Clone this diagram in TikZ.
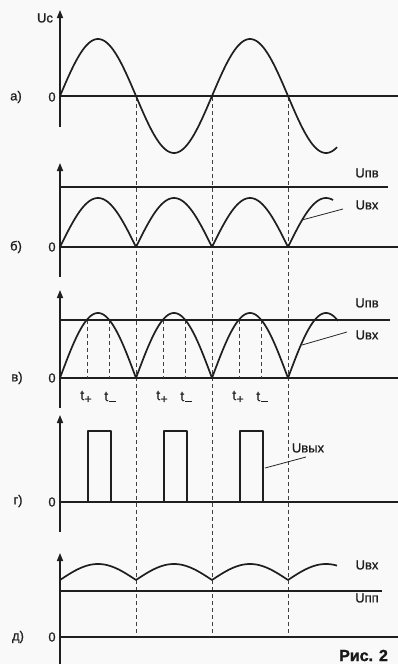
\documentclass[tikz,border=0pt]{standalone}
\usepackage{fontspec}
\setmainfont[FakeBold=1]{Liberation Sans}
\newfontfamily\figfont[FakeBold=1.5]{Liberation Sans}
\usetikzlibrary{arrows.meta}
\newcommand{\tplus}{t\kern0.5pt\raisebox{-3pt}{\fontsize{12}{12}\selectfont +}}
\newcommand{\tminus}{t\kern1pt\raisebox{-1pt}{\rule{6.5pt}{1.2pt}}}
\begin{document}
\begin{tikzpicture}[x=1pt,y=-1pt,
  curve/.style={draw=black!88, line width=1.7pt, line join=round},
  axis/.style={draw=black!88, line width=1.5pt},
  yaxis/.style={draw=black!88, line width=1.5pt, -{Triangle[length=8pt,width=6pt]}},
  guide/.style={draw=black!75, line width=0.9pt, dash pattern=on 4pt off 3pt},
  lbl/.style={font=\fontsize{13}{15}\selectfont, inner sep=0pt, text=black!88},
  tlbl/.style={font=\fontsize{14}{16}\selectfont, inner sep=0pt, text=black!88},
  lead/.style={draw=black!85, line width=0.8pt}
]
\useasboundingbox[fill=gray!5] (0,0) rectangle (398,664);

% dashed guides through all panels
\foreach \gx in {136,212,288} \draw[guide] (\gx,97) -- (\gx,636);

% ---- panel a
\draw[yaxis] (60,127) -- (60,10);
\draw[axis] (60,96) -- (398,96);
\draw[curve] plot[domain=60:337,samples=278] (\x,{96-57*sin((\x-60)/76*180)});
\node[lbl] (uc) at (45,18) {Uc};
\node[lbl] (la) at (16,97) {а)};
\node[lbl] (za) at (52,97) {0};

% ---- panel b
\draw[yaxis] (60,277) -- (60,163);
\draw[axis] (60,247) -- (398,247);
\draw[axis] (60,187) -- (388,187);
\draw[curve] plot[domain=60:333,samples=274] (\x,{247-49*abs(sin((\x-60)/76*180))});
\node[lbl] (lb) at (16,247) {б)};
\node[lbl] (zb) at (52,247) {0};
\node[lbl] (upvb) at (367,173) {Uпв};
\node[lbl] (uvxb) at (367,205) {Uвх};
\coordinate (lb1) at (343,209);
\coordinate (lb2) at (302,220);
\draw[lead] (lb1) -- (lb2);

% ---- panel v
\draw[yaxis] (60,408) -- (60,290);
\draw[axis] (60,378) -- (398,378);
\foreach \tx in {87,163,239} {
  \draw[guide] (\tx,320) -- (\tx,378);
  \draw[guide] (\tx+22,320) -- (\tx+22,378);
}
\draw[axis] (60,320) -- (390,320);
\draw[curve] plot[domain=60:338,samples=279] (\x,{378-65*abs(sin((\x-60)/76*180))});
\node[lbl] (lv) at (17,378) {в)};
\node[lbl] (zv) at (52,378) {0};
\node[tlbl] (tp1) at (86,397) {\tplus};
\node[tlbl] (tm1) at (110,397) {\tminus};
\node[tlbl] (tp2) at (162,397) {\tplus};
\node[tlbl] (tm2) at (186,397) {\tminus};
\node[tlbl] (tp3) at (238,397) {\tplus};
\node[tlbl] (tm3) at (262,397) {\tminus};
\node[lbl] (upvv) at (367,303) {Uпв};
\node[lbl] (uvxv) at (367,335) {Uвх};
\coordinate (lv1) at (347,332);
\coordinate (lv2) at (302,345);
\draw[lead] (lv1) -- (lv2);

% ---- panel g
\draw[yaxis] (60,532) -- (60,415);
\draw[axis] (60,502) -- (398,502);
\foreach \px in {88,164,240}
  \draw[curve] (\px,502) -- (\px,431) -- (\px+23,431) -- (\px+23,502);
\node[lbl] (lg) at (18,501) {г)};
\node[lbl] (zg) at (52,502) {0};
\node[lbl] (uvyx) at (308,448) {Uвых};
\coordinate (lg1) at (306,457);
\coordinate (lg2) at (265,468);
\draw[lead] (lg1) -- (lg2);

% ---- panel d
\draw[yaxis] (60,664) -- (60,553);
\draw[axis] (60,637) -- (398,637);
\draw[axis] (60,591) -- (382,591);
\draw[curve] plot[domain=60:337,samples=278] (\x,{580-16*abs(sin((\x-60)/76*180))});
\node[lbl] (ld) at (18,637) {д)};
\node[lbl] (zd) at (52,637) {0};
\node[lbl] (uvxd) at (367,565) {Uвх};
\node[lbl] (uppd) at (367,598) {Uпп};

\node[font=\figfont\bfseries\fontsize{16}{18}\selectfont, anchor=base west, inner sep=0pt, text=black!90] (fig) at (339,661) {Рис. 2};
\end{tikzpicture}
\end{document}
